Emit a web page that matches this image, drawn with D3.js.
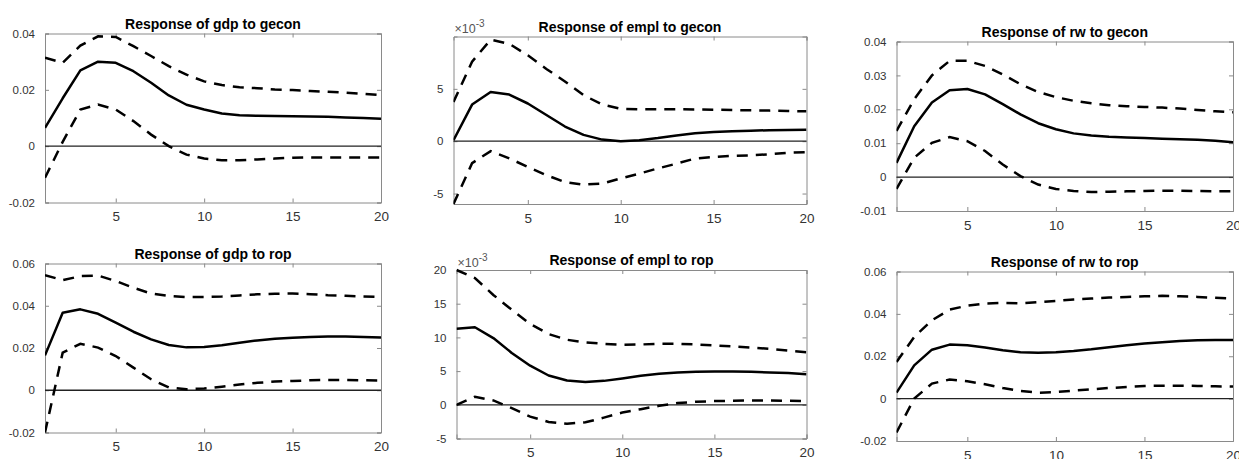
<!DOCTYPE html>
<html><head><meta charset="utf-8">
<script src="https://cdn.jsdelivr.net/npm/d3@7"></script>
<style>
body{margin:0;background:#fff;}
svg{display:block;font-family:"Liberation Sans",Arial,Helvetica,sans-serif;}
</style></head>
<body>
<svg id="c" width="1239" height="459"></svg>
<script>
const horizon = d3.range(1, 21);
const xTicks = [5, 10, 15, 20];

const titles = ["Response of gdp to gecon","Response of empl to gecon","Response of rw to gecon",
                "Response of gdp to rop","Response of empl to rop","Response of rw to rop"];

// gdp to gecon
const gdpGeconMid = [0.0065,0.017,0.0269,0.030,0.0296,0.0266,0.0225,0.018,0.0147,0.013,0.0116,0.011,0.0108,0.0107,0.0106,0.0105,0.0104,0.0102,0.0100,0.0097];
const gdpGeconUp  = [0.0314,0.0296,0.0357,0.039,0.0388,0.0355,0.032,0.0284,0.0254,0.023,0.0217,0.0209,0.0206,0.0201,0.0199,0.0196,0.0193,0.019,0.0186,0.0181];
const gdpGeconLo  = [-0.0112,0.0015,0.013,0.0148,0.013,0.0089,0.0041,0.0,-0.003,-0.0044,-0.005,-0.005,-0.0047,-0.0044,-0.0041,-0.004,-0.004,-0.004,-0.004,-0.004];
// empl to gecon (x 1e-3)
const emplGeconMid = [0.1,3.5,4.7,4.45,3.6,2.5,1.4,0.6,0.15,0.0,0.1,0.3,0.55,0.75,0.87,0.95,1.0,1.05,1.08,1.1];
const emplGeconUp  = [3.75,7.6,9.7,9.3,8.2,6.9,5.7,4.4,3.5,3.1,3.05,3.05,3.05,3.03,3.0,2.98,2.95,2.92,2.88,2.85];
const emplGeconLo  = [-6.0,-2.1,-0.95,-1.65,-2.45,-3.25,-3.9,-4.15,-4.05,-3.55,-3.1,-2.6,-2.15,-1.65,-1.5,-1.4,-1.35,-1.25,-1.1,-1.05];
// rw to gecon
const rwGeconMid = [0.0042,0.015,0.022,0.0256,0.026,0.0244,0.0215,0.0185,0.0159,0.0141,0.0129,0.0123,0.0119,0.0117,0.0115,0.0113,0.0112,0.011,0.0107,0.0103];
const rwGeconUp  = [0.0136,0.023,0.030,0.0343,0.0343,0.0328,0.0303,0.0274,0.0251,0.0236,0.0225,0.0218,0.0212,0.0209,0.0207,0.0205,0.0202,0.0198,0.0194,0.0191];
const rwGeconLo  = [-0.0035,0.0057,0.0101,0.0118,0.0106,0.0077,0.0037,0.0003,-0.0022,-0.0035,-0.0041,-0.0044,-0.0043,-0.0042,-0.0041,-0.004,-0.004,-0.0041,-0.0042,-0.0042];
// gdp to rop
const gdpRopMid = [0.0165,0.0367,0.0383,0.0362,0.032,0.0277,0.0241,0.0214,0.0203,0.0205,0.0213,0.0225,0.0236,0.0244,0.0249,0.0252,0.0254,0.0254,0.0252,0.025];
const gdpRopUp  = [0.0545,0.0521,0.054,0.0543,0.0517,0.0485,0.0458,0.0446,0.0441,0.0441,0.0444,0.0449,0.0454,0.0457,0.0458,0.0455,0.045,0.0447,0.0444,0.0441];
const gdpRopLo  = [-0.02,0.0178,0.022,0.0202,0.0162,0.0107,0.0052,0.0013,0.0005,0.0008,0.0017,0.0027,0.0035,0.0041,0.0044,0.0047,0.0049,0.0049,0.0047,0.0046];
// empl to rop (x 1e-3)
const emplRopMid = [11.3,11.5,9.9,7.7,5.8,4.35,3.6,3.4,3.55,3.9,4.3,4.6,4.8,4.9,4.95,4.95,4.9,4.8,4.7,4.55];
const emplRopUp  = [20.0,18.8,16.3,14.1,12.0,10.5,9.65,9.25,9.05,8.9,8.95,9.05,9.05,8.95,8.8,8.65,8.5,8.3,8.05,7.8];
const emplRopLo  = [0.0,1.2,0.65,-0.5,-1.75,-2.55,-2.8,-2.6,-1.9,-1.15,-0.65,-0.15,0.25,0.45,0.55,0.6,0.65,0.65,0.6,0.55];
// rw to rop
const rwRopMid = [0.0028,0.0157,0.0231,0.0255,0.0252,0.0241,0.0228,0.0219,0.0216,0.0219,0.0225,0.0233,0.0243,0.0252,0.026,0.0266,0.0272,0.0276,0.0277,0.0277];
const rwRopUp  = [0.0173,0.0291,0.037,0.042,0.0439,0.0449,0.0452,0.045,0.0455,0.0461,0.0468,0.0472,0.0477,0.048,0.0483,0.0485,0.0483,0.048,0.0476,0.0472];
const rwRopLo  = [-0.016,0.0,0.0071,0.009,0.0082,0.0068,0.005,0.0036,0.0028,0.0031,0.0038,0.0044,0.005,0.0055,0.006,0.0061,0.0061,0.006,0.0058,0.0057];

const yTicks1 = [-0.02, 0, 0.02, 0.04];
const yTicks2 = [-5, 0, 5];
const yTicks3 = [-0.01, 0, 0.01, 0.02, 0.03, 0.04];
const yTicks4 = [-0.02, 0, 0.02, 0.04, 0.06];
const yTicks5 = [-5, 0, 5, 10, 15, 20];
const yTicks6 = [-0.02, 0, 0.02, 0.04, 0.06];

const yDomains = [[-0.02,0.04],[-6,10],[-0.01,0.04],[-0.02,0.06],[-5,20],[-0.02,0.06]];
const exponentFlags = [false,true,false,false,true,false];

// layout (pixel boxes)
const boxes = [
  {l:45, r:381, t:33.5, b:202.5},
  {l:453.5, r:806.5, t:36.5, b:204},
  {l:896.5, r:1233, t:41.5, b:211},
  {l:45, r:381, t:263.5, b:432.5},
  {l:456.5, r:806.5, t:270, b:438.5},
  {l:896.5, r:1233, t:271.5, b:441}
];

const panels = [
  {mid:gdpGeconMid, up:gdpGeconUp, lo:gdpGeconLo, ticks:yTicks1},
  {mid:emplGeconMid, up:emplGeconUp, lo:emplGeconLo, ticks:yTicks2},
  {mid:rwGeconMid, up:rwGeconUp, lo:rwGeconLo, ticks:yTicks3},
  {mid:gdpRopMid, up:gdpRopUp, lo:gdpRopLo, ticks:yTicks4},
  {mid:emplRopMid, up:emplRopUp, lo:emplRopLo, ticks:yTicks5},
  {mid:rwRopMid, up:rwRopUp, lo:rwRopLo, ticks:yTicks6}
];

const svg = d3.select("#c");
const fmt = d => d === 0 ? "0" : String(+d.toFixed(4));
const axisColor = "#8a8a8a";
const textColor = "#333333";
const FF = "'Liberation Sans', Arial, sans-serif";

panels.forEach((p, i) => {
  const bx = boxes[i];
  const x = d3.scaleLinear().domain([1, 20]).range([bx.l, bx.r]);
  const y = d3.scaleLinear().domain(yDomains[i]).range([bx.b, bx.t]);
  const g = svg.append("g");
  const clipId = "clip" + i;
  svg.append("clipPath").attr("id", clipId).append("rect")
    .attr("x", bx.l).attr("y", bx.t - 2).attr("width", bx.r - bx.l).attr("height", bx.b - bx.t + 4);

  const axB = d3.axisBottom(x).tickValues(xTicks).tickSize(-4).tickPadding(9).tickFormat(d3.format("d"));
  const axT = d3.axisTop(x).tickValues(xTicks).tickSize(-4).tickFormat("");
  const axL = d3.axisLeft(y).tickValues(p.ticks).tickSize(-4).tickPadding(10).tickFormat(fmt);
  const axR = d3.axisRight(y).tickValues(p.ticks).tickSize(-4).tickFormat("");
  [[axB, `translate(0,${bx.b})`, "13.5px"],[axT, `translate(0,${bx.t})`, "11px"],[axL, `translate(${bx.l},0)`, "11.5px"],[axR, `translate(${bx.r},0)`, "11px"]].forEach(([ax, tr, fs]) => {
    const a = g.append("g").attr("transform", tr).call(ax);
    a.attr("font-size", null).attr("font-family", null);
    a.select(".domain").attr("stroke", axisColor).attr("stroke-width", 1);
    a.selectAll(".tick line").attr("stroke", axisColor);
    a.selectAll("text").attr("fill", textColor).style("font-size", fs).style("font-family", FF);
  });

  g.append("line").attr("x1", x(1)).attr("x2", x(20)).attr("y1", y(0)).attr("y2", y(0))
    .attr("stroke", "#222").attr("stroke-width", 1.3);

  const line = d3.line().x((d, k) => x(horizon[k])).y(d => y(d));
  const lg = g.append("g").attr("clip-path", `url(#${clipId})`);
  lg.append("path").attr("d", line(p.up)).attr("fill", "none").attr("stroke", "#000")
    .attr("stroke-width", 2.5).attr("stroke-dasharray", "11,8");
  lg.append("path").attr("d", line(p.lo)).attr("fill", "none").attr("stroke", "#000")
    .attr("stroke-width", 2.5).attr("stroke-dasharray", "11,8");
  lg.append("path").attr("d", line(p.mid)).attr("fill", "none").attr("stroke", "#000")
    .attr("stroke-width", 2.5).attr("stroke-linejoin", "round");

  g.append("text").attr("x", (bx.l + bx.r) / 2).attr("y", bx.t - 5)
    .attr("text-anchor", "middle").style("font-size", "14px").style("font-weight", "bold")
    .style("font-family", FF).attr("fill", "#000").text(titles[i]);

  if (exponentFlags[i]) {
    const t = g.append("text").attr("x", bx.l + 1).attr("y", bx.t - 3.5)
      .style("font-size", "12.5px").style("font-family", FF).attr("fill", "#555");
    t.append("tspan").text("\u00d710");
    t.append("tspan").attr("dy", -6).style("font-size", "10px").text("-3");
  }
});
</script>
</body></html>
